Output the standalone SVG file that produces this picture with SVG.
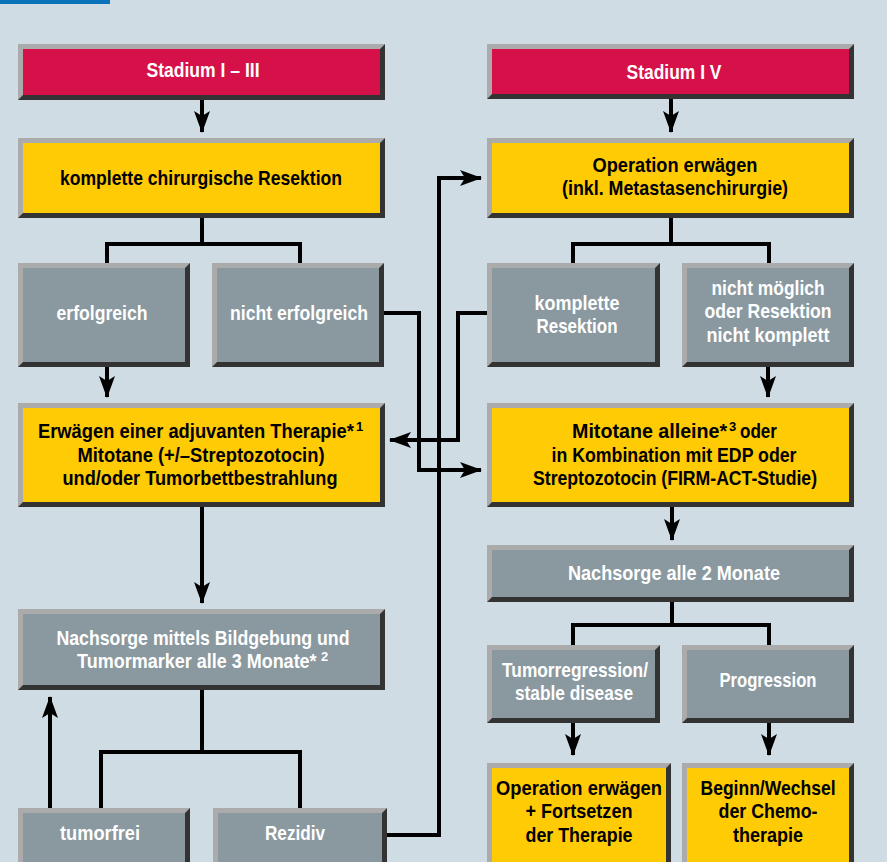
<svg xmlns="http://www.w3.org/2000/svg" width="887" height="862" viewBox="0 0 887 862">
<defs>
<style>
.bg{fill:#cfdce4}
.dk{fill:#333333}
.lt{fill:#ababab}
.red{fill:#d6114a}
.yel{fill:#ffcb05}
.gry{fill:#8a999f}
text{font-family:"Liberation Sans Narrow","Liberation Sans",Arial,sans-serif;font-weight:bold;font-size:20.5px;text-anchor:middle}
.w{fill:#ffffff}
.b{fill:#000000}
.sup{font-size:13px;text-anchor:start}
.st{text-anchor:start}
.con{fill:none;stroke:#000;stroke-width:4}
.arr{fill:none;stroke:#000;stroke-width:4;marker-end:url(#ah)}
</style>
<marker id="ah" markerUnits="userSpaceOnUse" markerWidth="22" markerHeight="16" viewBox="0 0 22 16" refX="21" refY="8" orient="auto">
<path d="M0,0 L22,8 L0,16 L5,8 z" fill="#000"/>
</marker>
</defs>
<rect class="bg" x="0" y="0" width="887" height="862"/>
<rect x="0" y="0" width="110" height="4" fill="#0a72b8"/>

<g id="connectors">
<path class="arr" d="M202,100 V132"/>
<path class="con" d="M107,263 V244 H300 V263 M202,218 V244"/>
<path class="arr" d="M107,367 V397"/>
<path class="arr" d="M671,99 V132"/>
<path class="con" d="M573,263 V244 H769 V263 M671,218 V244"/>
<path class="arr" d="M768,367 V397"/>
<path class="arr" d="M384,313 H419 V470 H481"/>
<path class="arr" d="M487,313 H458 V440 H390"/>
<path class="arr" d="M387,835 H439 V178 H481"/>
<path class="arr" d="M202,507 V603"/>
<path class="arr" d="M672,507 V540"/>
<path class="con" d="M573,645 V625 H769 V645 M672,602 V625"/>
<path class="arr" d="M573,723 V755"/>
<path class="arr" d="M769,723 V755"/>
<path class="con" d="M202,690 V752 M101,808 V752 H300 V808"/>
<path class="arr" d="M50,808 V697"/>
</g>

<g id="stadium13">
<rect class="dk" x="18" y="44" width="367" height="56"/>
<polygon class="lt" points="18,44 385,44 380,49 23,49 23,95 18,100"/>
<rect class="red" x="23" y="49" width="357" height="46"/>
<text class="w" x="203" y="77" textLength="113" lengthAdjust="spacingAndGlyphs">Stadium I – III</text>
</g>

<g id="stadium4">
<rect class="dk" x="487" y="44" width="367" height="55"/>
<polygon class="lt" points="487,44 854,44 849,49 492,49 492,94 487,99"/>
<rect class="red" x="492" y="49" width="357" height="45"/>
<text class="w" x="674" y="79" textLength="95" lengthAdjust="spacingAndGlyphs">Stadium I V</text>
</g>

<g id="resektion">
<rect class="dk" x="18" y="138" width="367" height="80"/>
<polygon class="lt" points="18,138 385,138 380,143 23,143 23,213 18,218"/>
<rect class="yel" x="23" y="143" width="357" height="70"/>
<text class="b" x="201" y="185" textLength="282" lengthAdjust="spacingAndGlyphs">komplette chirurgische Resektion</text>
</g>

<g id="operation">
<rect class="dk" x="487" y="138" width="367" height="80"/>
<polygon class="lt" points="487,138 854,138 849,143 492,143 492,213 487,218"/>
<rect class="yel" x="492" y="143" width="357" height="70"/>
<text class="b" x="675" y="172" textLength="165" lengthAdjust="spacingAndGlyphs">Operation erwägen</text>
<text class="b" x="675" y="195" textLength="226" lengthAdjust="spacingAndGlyphs">(inkl. Metastasenchirurgie)</text>
</g>

<g id="erfolgreich">
<rect class="dk" x="18" y="263" width="172" height="104"/>
<polygon class="lt" points="18,263 190,263 185,268 23,268 23,362 18,367"/>
<rect class="gry" x="23" y="268" width="162" height="94"/>
<text class="w" x="102" y="320" textLength="91" lengthAdjust="spacingAndGlyphs">erfolgreich</text>
</g>

<g id="nichterfolgreich">
<rect class="dk" x="212" y="263" width="172" height="104"/>
<polygon class="lt" points="212,263 384,263 379,268 217,268 217,362 212,367"/>
<rect class="gry" x="217" y="268" width="162" height="94"/>
<text class="w" x="299" y="320" textLength="138" lengthAdjust="spacingAndGlyphs">nicht erfolgreich</text>
</g>

<g id="kompletteResektion">
<rect class="dk" x="487" y="263" width="173" height="104"/>
<polygon class="lt" points="487,263 660,263 655,268 492,268 492,362 487,367"/>
<rect class="gry" x="492" y="268" width="163" height="94"/>
<text class="w" x="577" y="310" textLength="85" lengthAdjust="spacingAndGlyphs">komplette</text>
<text class="w" x="577" y="333" textLength="81" lengthAdjust="spacingAndGlyphs">Resektion</text>
</g>

<g id="nichtmoeglich">
<rect class="dk" x="682" y="263" width="172" height="104"/>
<polygon class="lt" points="682,263 854,263 849,268 687,268 687,362 682,367"/>
<rect class="gry" x="687" y="268" width="162" height="94"/>
<text class="w" x="768" y="295" textLength="113" lengthAdjust="spacingAndGlyphs">nicht möglich</text>
<text class="w" x="768" y="318" textLength="127" lengthAdjust="spacingAndGlyphs">oder Resektion</text>
<text class="w" x="768" y="342" textLength="123" lengthAdjust="spacingAndGlyphs">nicht komplett</text>
</g>

<g id="adjuvant">
<rect class="dk" x="18" y="403" width="367" height="104"/>
<polygon class="lt" points="18,403 385,403 380,408 23,408 23,502 18,507"/>
<rect class="yel" x="23" y="408" width="357" height="94"/>
<text class="b st" transform="translate(38,438) scale(0.895,1)">Erwägen einer adjuvanten Therapie*</text>
<text class="b sup" x="356" y="431">1</text>
<text class="b" x="201" y="462" textLength="247" lengthAdjust="spacingAndGlyphs">Mitotane (+/–Streptozotocin)</text>
<text class="b" x="200" y="485" textLength="275" lengthAdjust="spacingAndGlyphs">und/oder Tumorbettbestrahlung</text>
</g>

<g id="mitotane">
<rect class="dk" x="487" y="403" width="367" height="104"/>
<polygon class="lt" points="487,403 854,403 849,408 492,408 492,502 487,507"/>
<rect class="yel" x="492" y="408" width="357" height="94"/>
<text class="b st" transform="translate(572,438) scale(0.96,1)">Mitotane alleine*</text>
<text class="b sup" x="729" y="431">3</text>
<text class="b st" x="740" y="438" textLength="37" lengthAdjust="spacingAndGlyphs">oder</text>
<text class="b" x="674" y="462" textLength="245" lengthAdjust="spacingAndGlyphs">in Kombination mit EDP oder</text>
<text class="b" x="675" y="485" textLength="284" lengthAdjust="spacingAndGlyphs">Streptozotocin (FIRM-ACT-Studie)</text>
</g>

<g id="nachsorge3">
<rect class="dk" x="18" y="609" width="367" height="81"/>
<polygon class="lt" points="18,609 385,609 380,614 23,614 23,685 18,690"/>
<rect class="gry" x="23" y="614" width="357" height="71"/>
<text class="w" x="203" y="645" textLength="293" lengthAdjust="spacingAndGlyphs">Nachsorge mittels Bildgebung und</text>
<text class="w st" transform="translate(77,668) scale(0.878,1)">Tumormarker alle 3 Monate*</text>
<text class="w sup" x="321" y="661">2</text>
</g>

<g id="nachsorge2">
<rect class="dk" x="487" y="545" width="367" height="57"/>
<polygon class="lt" points="487,545 854,545 849,550 492,550 492,597 487,602"/>
<rect class="gry" x="492" y="550" width="357" height="47"/>
<text class="w" x="674" y="580" textLength="212" lengthAdjust="spacingAndGlyphs">Nachsorge alle 2 Monate</text>
</g>

<g id="tumorfrei">
<rect class="dk" x="18" y="808" width="172" height="70"/>
<polygon class="lt" points="18,808 190,808 185,813 23,813 23,873 18,878"/>
<rect class="gry" x="23" y="813" width="162" height="60"/>
<text class="w" x="100" y="840" textLength="80" lengthAdjust="spacingAndGlyphs">tumorfrei</text>
</g>

<g id="rezidiv">
<rect class="dk" x="213" y="808" width="174" height="70"/>
<polygon class="lt" points="213,808 387,808 382,813 218,813 218,873 213,878"/>
<rect class="gry" x="218" y="813" width="164" height="60"/>
<text class="w" x="295" y="840" textLength="60" lengthAdjust="spacingAndGlyphs">Rezidiv</text>
</g>

<g id="tumorregression">
<rect class="dk" x="487" y="645" width="173" height="78"/>
<polygon class="lt" points="487,645 660,645 655,650 492,650 492,718 487,723"/>
<rect class="gry" x="492" y="650" width="163" height="68"/>
<text class="w" x="575" y="677" textLength="146" lengthAdjust="spacingAndGlyphs">Tumorregression/</text>
<text class="w" x="574" y="700" textLength="118" lengthAdjust="spacingAndGlyphs">stable disease</text>
</g>

<g id="progression">
<rect class="dk" x="682" y="645" width="172" height="78"/>
<polygon class="lt" points="682,645 854,645 849,650 687,650 687,718 682,723"/>
<rect class="gry" x="687" y="650" width="162" height="68"/>
<text class="w" x="768" y="687" textLength="97" lengthAdjust="spacingAndGlyphs">Progression</text>
</g>

<g id="operationFortsetzen">
<rect class="dk" x="487" y="763" width="184" height="110"/>
<polygon class="lt" points="487,763 671,763 666,768 492,768 492,868 487,873"/>
<rect class="yel" x="492" y="768" width="174" height="100"/>
<text class="b" x="579" y="795" textLength="166" lengthAdjust="spacingAndGlyphs">Operation erwägen</text>
<text class="b" x="579" y="818" textLength="107" lengthAdjust="spacingAndGlyphs">+ Fortsetzen</text>
<text class="b" x="579" y="842" textLength="107" lengthAdjust="spacingAndGlyphs">der Therapie</text>
</g>

<g id="chemo">
<rect class="dk" x="682" y="763" width="172" height="110"/>
<polygon class="lt" points="682,763 854,763 849,768 687,768 687,868 682,873"/>
<rect class="yel" x="687" y="768" width="162" height="100"/>
<text class="b" x="768" y="795" textLength="135" lengthAdjust="spacingAndGlyphs">Beginn/Wechsel</text>
<text class="b" x="768" y="818" textLength="99" lengthAdjust="spacingAndGlyphs">der Chemo-</text>
<text class="b" x="768" y="842" textLength="70" lengthAdjust="spacingAndGlyphs">therapie</text>
</g>
</svg>
